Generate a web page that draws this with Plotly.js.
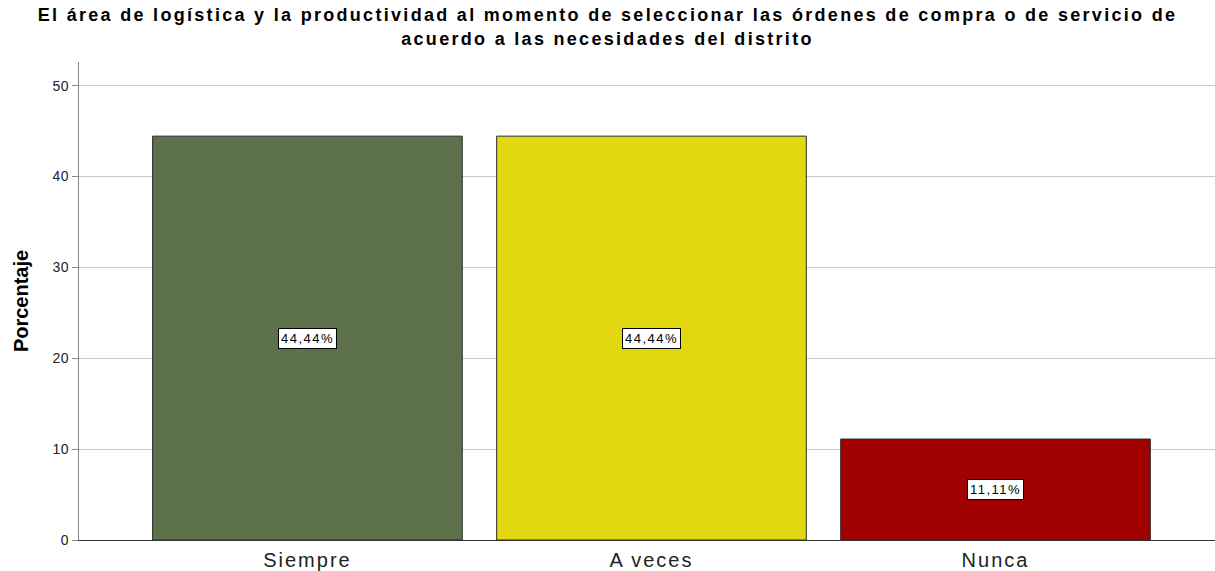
<!DOCTYPE html>
<html>
<head>
<meta charset="utf-8">
<script src="https://cdn.plot.ly/plotly-3.0.1.min.js"></script>
<style>
html,body{margin:0;padding:0;background:#fff;}
#chart{width:1215px;height:571px;}
.gtitle{letter-spacing:2.3px;}
.xtick text{letter-spacing:2px;}
.ytick text{letter-spacing:0.6px;}
.annotation-text{letter-spacing:1.5px;}
</style>
</head>
<body>
<div id="chart"></div>
<script>
const categories = ["Siempre", "A veces", "Nunca"];
const percentages = [44.44, 44.44, 11.11];
const valueLabels = ["44,44%", "44,44%", "11,11%"];
const barColors = ["#5d714a", "#e3d80f", "#a10000"];
const yTicks = [0, 10, 20, 30, 40, 50];

const FONT = "Arial, Liberation Sans, sans-serif";

const trace = {
  type: "bar",
  x: categories,
  y: percentages,
  marker: {color: barColors, line: {color: "#2a2a2a", width: 1}},
  hoverinfo: "none"
};

const annotations = categories.map((c, i) => ({
  x: c, y: percentages[i] / 2, xref: "x", yref: "y",
  text: valueLabels[i], showarrow: false,
  font: {family: FONT, size: 13, color: "#000"},
  bgcolor: "#ffffff", bordercolor: "#000000", borderwidth: 1, borderpad: 2
}));

const layout = {
  width: 1215, height: 571,
  margin: {l: 79, r: 0, t: 62, b: 31},
  paper_bgcolor: "#ffffff", plot_bgcolor: "#ffffff",
  showlegend: false,
  bargap: 0.1,
  title: {
    text: "El área de logística y la productividad al momento de seleccionar las órdenes de compra o de servicio de<br>acuerdo a las necesidades del distrito",
    font: {family: FONT, size: 18, color: "#000", weight: "bold"},
    x: 0.5, xanchor: "center", y: 0.963, yanchor: "top"
  },
  xaxis: {
    type: "category",
    range: [-0.664, 2.638],
    showgrid: false, zeroline: false,
    showline: true, linecolor: "#333", linewidth: 1,
    ticks: "", tickfont: {family: FONT, size: 20, color: "#222"},
    ticklabelstandoff: 2
  },
  yaxis: {
    range: [0, 52.6],
    tickvals: yTicks,
    showgrid: true, gridcolor: "#c8c8c8", gridwidth: 1,
    zeroline: false,
    showline: true, linecolor: "#888", linewidth: 1,
    ticks: "outside", ticklen: 6, tickcolor: "#888",
    tickfont: {family: FONT, size: 14, color: "#222"},
    title: {text: "Porcentaje", font: {family: FONT, size: 20, color: "#000", weight: "bold"}, standoff: 18}
  },
  annotations: annotations
};

Plotly.newPlot("chart", [trace], layout, {displayModeBar: false, staticPlot: true});
</script>
</body>
</html>
